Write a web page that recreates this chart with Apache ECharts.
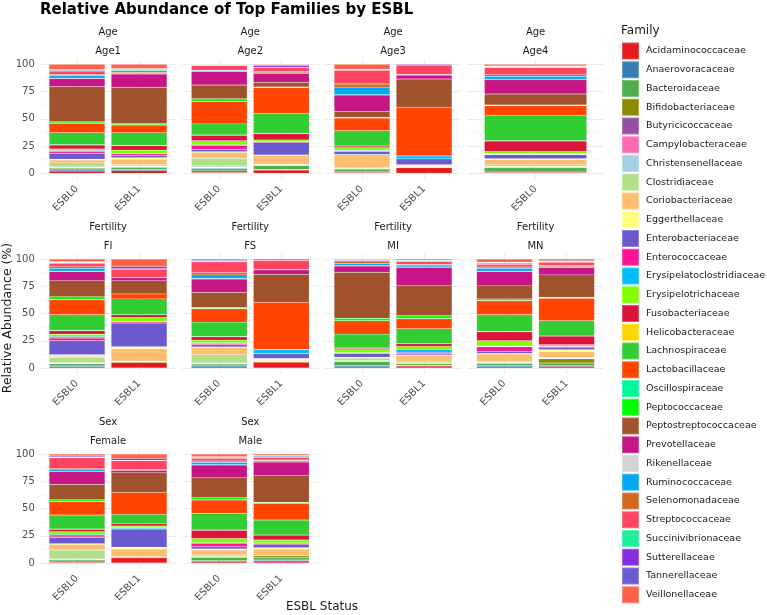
<!DOCTYPE html>
<html>
<head>
<meta charset="utf-8">
<title>Relative Abundance of Top Families by ESBL</title>
<script src="https://cdn.jsdelivr.net/npm/echarts@6/dist/echarts.min.js"></script>
<style>
html, body { margin: 0; padding: 0; background: #fff; }
#main { width: 767px; height: 615px; }
</style>
</head>
<body>
<div id="main"></div>
<script>
// families, bottom of the stack first
var families = ['Acidaminococcaceae','Anaerovoracaceae','Bacteroidaceae','Bifidobacteriaceae','Butyricicoccaceae',
    'Campylobacteraceae','Christensenellaceae','Clostridiaceae','Coriobacteriaceae','Eggerthellaceae',
    'Enterobacteriaceae','Enterococcaceae','Erysipelatoclostridiaceae','Erysipelotrichaceae','Fusobacteriaceae',
    'Helicobacteraceae','Lachnospiraceae','Lactobacillaceae','Oscillospiraceae','Peptococcaceae',
    'Peptostreptococcaceae','Prevotellaceae','Rikenellaceae','Ruminococcaceae','Selenomonadaceae',
    'Streptococcaceae','Succinivibrionaceae','Sutterellaceae','Tannerellaceae','Veillonellaceae'];
var familyColors = ['#E41A1C','#377EB8','#4DAF4A','#8B8B00','#984EA3',
    '#FF69B4','#A6CEE3','#B2DF8A','#FDBF6F','#FFFF80',
    '#6A5ACD','#FF1493','#00BFFF','#7FFF00','#DC143C',
    '#FFD700','#32CD32','#FF4500','#00FA9A','#00FF00',
    '#A0522D','#C71585','#D3D3D3','#03A9F4','#D2691E',
    '#FF4560','#1EF09A','#8A2BE2','#6A5ACD','#FF6347'];

// relative abundance (%) per family, same order as families
var Age1_ESBL0 = [2, 1, 1.5, 0.5, 0.3, 0.3, 0.5, 3.5, 2.5, 0.8, 5.5, 1.5, 1, 1.5, 3.5, 0.3, 11, 8.7, 0.3, 1.2, 32, 7.5, 0.3, 2.5, 1, 3, 0.5, 0.5, 0.5, 4.8];
var Age1_ESBL1 = [2.5, 1, 2, 0.5, 0.3, 0.2, 0.3, 1, 5, 1.5, 2, 1.5, 0.5, 3, 4, 0.3, 11.7, 7, 0.3, 0.8, 33.5, 12.2, 0.3, 0.7, 0.5, 1.5, 1.2, 0.3, 0.5, 3.9];
var Age2_ESBL0 = [1, 1.5, 2, 0.3, 0.5, 0.5, 1, 7, 5.5, 0.5, 2, 4, 0.5, 3.5, 5, 0.4, 10.1, 20.4, 0.3, 2.5, 12.5, 12.3, 0.2, 0.8, 0.3, 4.2, 0.3, 0.3, 0.4, 0.2];
var Age2_ESBL1 = [3, 0.5, 3.5, 0.3, 0.2, 0.2, 0.2, 0.5, 8, 0.5, 11.5, 0.5, 0.3, 1.5, 5.7, 0.3, 18.3, 23.6, 0.5, 0.2, 4.2, 8.2, 0.2, 0.5, 1, 3.5, 0.3, 1.5, 0.8, 0.5];
var Age3_ESBL0 = [1, 0.8, 2, 0.2, 0.2, 0.1, 0.2, 0.7, 11.7, 0.3, 2.7, 0.5, 0.8, 2.2, 1.5, 0.3, 13.8, 11.6, 0.3, 0.6, 5.2, 15.1, 0.3, 7, 2.8, 12.6, 0.5, 0.3, 0.2, 4.5];
var Age3_ESBL1 = [5.2, 0, 0.3, 0, 0, 0, 0, 0.3, 0.7, 1.5, 5.2, 0, 2.8, 0, 0, 0, 0, 44.7, 0, 0, 25.8, 3.7, 0, 0, 0.5, 8.3, 0, 1, 0, 0];
var Age4_ESBL0 = [1, 1, 3, 0.5, 0.2, 0.2, 0.3, 1.5, 4.6, 1.2, 3.5, 0.5, 0.5, 2, 9.5, 0.3, 23.6, 8.6, 0.2, 0.5, 10, 13.2, 0.3, 2.8, 1.5, 6.5, 0.5, 0.5, 0.5, 1.5];
var FI_ESBL0 = [1, 0.8, 2, 0.3, 0.2, 0.2, 0.3, 5, 1, 1.4, 12.8, 2.5, 1.5, 2, 3.2, 0.3, 14.3, 13.7, 0.3, 2.7, 14.7, 8.2, 0.3, 2.8, 1.5, 3, 0.5, 0.5, 0.5, 2.5];
var FI_ESBL1 = [5.2, 0, 0.5, 0, 0, 0, 0, 0.5, 11.5, 1.8, 21.7, 1, 0.3, 3.8, 2.5, 0, 14.6, 4.6, 0, 0, 12.2, 2.7, 0, 0, 0.5, 7.1, 0.5, 2, 0, 7];
var FS_ESBL0 = [1, 1.2, 1.5, 0.3, 0.2, 0.2, 0.2, 7.6, 6.7, 0.5, 1.9, 1.2, 0.8, 2.3, 3, 0.3, 13.2, 12.2, 0.4, 0.8, 14, 12.2, 0.5, 3.2, 2, 10, 0.4, 0.4, 0.8, 1];
var FS_ESBL1 = [5.5, 0, 0.3, 0, 0, 0, 0, 0.3, 0.8, 1.8, 4.6, 0, 3.7, 0, 0, 0, 0, 43.4, 0, 0, 25.6, 4, 0, 0, 0.5, 8.3, 0, 1.2, 0, 0];
var MI_ESBL0 = [1, 1, 4, 0.2, 0.2, 0.1, 0.2, 2.4, 0.5, 0.3, 3.5, 0.3, 0.3, 2.8, 1.2, 0.3, 12.8, 12.2, 0.2, 2.2, 42.1, 5.8, 0.2, 1.9, 2.5, 0.3, 0.2, 0.8, 0.5, 0];
var MI_ESBL1 = [1.8, 0.5, 1.8, 0.2, 0.1, 0.1, 0.1, 1, 6, 0.3, 1.2, 1.2, 2.5, 3, 2.5, 0, 13.7, 9.1, 0.3, 2.5, 27.7, 16.8, 0.2, 1.9, 0.5, 2.5, 1, 0.3, 0.2, 1];
var MN_ESBL0 = [1, 1, 2.3, 0.3, 0.2, 0.2, 0.2, 0.9, 6.7, 0.6, 1.8, 4.3, 0.5, 5, 8.2, 0.3, 15.3, 12.8, 0.3, 1.5, 11.9, 13.1, 0.3, 2.8, 1.2, 2.5, 0.8, 0.5, 0.5, 3];
var MN_ESBL1 = [1.5, 1, 2.1, 3.9, 0.3, 0.2, 0.3, 0.5, 5.4, 1.6, 2.1, 0.8, 0.3, 1.3, 8, 0, 14, 20.7, 0.3, 0.6, 20.5, 6.7, 0.2, 0.7, 1, 3, 0.7, 0.3, 0.5, 1.5];
var Female_ESBL0 = [0.8, 1, 1.2, 0.2, 0.2, 0.1, 0.2, 8.2, 5.2, 0.5, 5.6, 1.5, 1.6, 2.4, 2.2, 0.3, 12.8, 12.3, 0.3, 1.5, 14.1, 11.6, 0.3, 1.8, 0.7, 10, 0.4, 0.8, 0.7, 1.5];
var Female_ESBL1 = [4.9, 0, 0.6, 0, 0, 0, 0, 0.3, 7, 1.6, 16.8, 0.3, 0.9, 1.5, 2.2, 0, 8.5, 20.2, 0, 0, 18.1, 2.1, 0, 0, 0.5, 8.4, 0.3, 1.8, 0, 4];
var Male_ESBL0 = [1, 1, 3.3, 0.2, 0.1, 0.1, 0.1, 1.5, 4.6, 0.9, 2.2, 3, 0.7, 3.9, 7.4, 0.3, 15.3, 12.2, 0.3, 2.1, 18.1, 11.6, 0.3, 2.2, 1.2, 2.5, 0.8, 0.3, 0.3, 2.5];
var Male_ESBL1 = [1.8, 1, 2, 1.9, 0, 0, 0, 0, 6.1, 1.3, 3, 0.9, 0.3, 2.8, 4.6, 0, 13.7, 15.3, 0.3, 0.7, 24.7, 12.2, 0.2, 1, 0.7, 2.5, 0.8, 0.5, 0.5, 1.2];

var panels = [
    {group: 'Age', level: 'Age1', cats: ['ESBL0', 'ESBL1'], bars: [Age1_ESBL0, Age1_ESBL1]},
    {group: 'Age', level: 'Age2', cats: ['ESBL0', 'ESBL1'], bars: [Age2_ESBL0, Age2_ESBL1]},
    {group: 'Age', level: 'Age3', cats: ['ESBL0', 'ESBL1'], bars: [Age3_ESBL0, Age3_ESBL1]},
    {group: 'Age', level: 'Age4', cats: ['ESBL0'], bars: [Age4_ESBL0]},
    {group: 'Fertility', level: 'FI', cats: ['ESBL0', 'ESBL1'], bars: [FI_ESBL0, FI_ESBL1]},
    {group: 'Fertility', level: 'FS', cats: ['ESBL0', 'ESBL1'], bars: [FS_ESBL0, FS_ESBL1]},
    {group: 'Fertility', level: 'MI', cats: ['ESBL0', 'ESBL1'], bars: [MI_ESBL0, MI_ESBL1]},
    {group: 'Fertility', level: 'MN', cats: ['ESBL0', 'ESBL1'], bars: [MN_ESBL0, MN_ESBL1]},
    {group: 'Sex', level: 'Female', cats: ['ESBL0', 'ESBL1'], bars: [Female_ESBL0, Female_ESBL1]},
    {group: 'Sex', level: 'Male', cats: ['ESBL0', 'ESBL1'], bars: [Male_ESBL0, Male_ESBL1]}
];

var FONT = 'DejaVu Sans';
var colLeft = [39.8, 182, 324.8, 467.3];
var panelW = 136.5;
var rowTop = [64.3, 259, 454];
var plotH = 109;

var myChart = echarts.init(document.getElementById('main'));

var grids = [], xAxes = [], yAxes = [], series = [], graphics = [];
var np = panels.length;

// background grids: full panel width, carry the grid lines and y labels
panels.forEach(function (p, i) {
    var row = Math.floor(i / 4), col = i % 4;
    var n = p.cats.length;
    var centers = p.cats.map(function (c, j) { return j + 1; });
    grids.push({left: colLeft[col], top: rowTop[row] - 0.05 * plotH, width: panelW, height: plotH * 1.1});
    xAxes.push({
        gridIndex: i, type: 'value', min: 0.4, max: n + 0.6,
        axisLine: {show: false}, axisLabel: {show: false},
        axisTick: {show: false, customValues: centers},
        splitLine: {show: true, lineStyle: {color: '#EBEBEB', width: 1}}
    });
    yAxes.push({gridIndex: i, type: 'value', min: 0, max: 1, show: false});
});
panels.forEach(function (p, i) {
    var row = Math.floor(i / 4), col = i % 4;
    var gi = np + i;
    grids.push({left: colLeft[col], top: rowTop[row], width: panelW, height: plotH});
    xAxes.push({gridIndex: gi, type: 'value', min: 0, max: 1, show: false});
    yAxes.push({
        gridIndex: gi, type: 'value', min: 0, max: 100, interval: 25,
        axisLine: {show: false}, axisTick: {show: false},
        axisLabel: {show: col === 0, fontSize: 10, color: '#4D4D4D', fontFamily: FONT, margin: 5},
        splitLine: {lineStyle: {color: '#EBEBEB', width: 1}},
        minorTick: {show: false, splitNumber: 2},
        minorSplitLine: {show: true, lineStyle: {color: '#F3F3F3', width: 0.6}}
    });
});

// bar grids: one band per category, bars 90% of it
panels.forEach(function (p, i) {
    var row = Math.floor(i / 4), col = i % 4;
    var n = p.cats.length;
    var band = n === 1 ? panelW / 1.2 : panelW / 2.2;
    var gi = 2 * np + i;
    grids.push({left: colLeft[col] + 0.6 * band - band / 2, top: rowTop[row], width: band * n, height: plotH});
    xAxes.push({
        gridIndex: gi, type: 'category', data: p.cats,
        axisLine: {show: false}, axisTick: {show: false}, splitLine: {show: false},
        axisLabel: {rotate: 45, fontSize: 10, color: '#4D4D4D', fontFamily: FONT, margin: 14, padding: [10, 0, 0, 0]}
    });
    yAxes.push({
        gridIndex: gi, type: 'value', min: 0, max: 100,
        axisLine: {show: false}, axisTick: {show: false}, axisLabel: {show: false}, splitLine: {show: false}
    });
    families.forEach(function (f, k) {
        series.push({
            type: 'bar', name: f, xAxisIndex: gi, yAxisIndex: gi, stack: 'p' + i,
            barWidth: '90%',
            itemStyle: {color: familyColors[k], borderColor: 'rgba(255,255,255,0.25)', borderWidth: 0.4},
            emphasis: {disabled: true},
            data: p.bars.map(function (b) { return b[k]; })
        });
    });
    var cx = colLeft[col] + panelW / 2;
    var stripY = rowTop[row] - 32;
    graphics.push({type: 'text', x: cx, y: stripY + 0.5, style: {text: p.group, fill: '#1A1A1A', font: '10px ' + FONT, textAlign: 'center', textVerticalAlign: 'middle'}});
    graphics.push({type: 'text', x: cx, y: stripY + 19, style: {text: p.level, fill: '#1A1A1A', font: '10px ' + FONT, textAlign: 'center', textVerticalAlign: 'middle'}});
});

graphics.push({type: 'text', x: 40, y: 10, style: {text: 'Relative Abundance of Top Families by ESBL', fill: '#000', font: 'bold 15px ' + FONT, textVerticalAlign: 'middle'}});
graphics.push({type: 'text', x: 8, y: 318, rotation: Math.PI / 2, style: {text: 'Relative Abundance (%)', fill: '#1A1A1A', font: '12.5px ' + FONT, textAlign: 'center', textVerticalAlign: 'middle'}});
graphics.push({type: 'text', x: 322, y: 607, style: {text: 'ESBL Status', fill: '#1A1A1A', font: '12px ' + FONT, textAlign: 'center', textVerticalAlign: 'middle'}});
graphics.push({type: 'text', x: 621, y: 31, style: {text: 'Family', fill: '#1A1A1A', font: '12px ' + FONT, textVerticalAlign: 'middle'}});

var option = {
    animation: false,
    backgroundColor: '#fff',
    grid: grids,
    xAxis: xAxes,
    yAxis: yAxes,
    legend: {
        data: families, orient: 'vertical', left: 616, top: 36.5,
        itemWidth: 17, itemHeight: 17, itemGap: -0.25, icon: 'rect',
        selectedMode: false,
        textStyle: {fontSize: 9.5, color: '#1A1A1A', fontFamily: FONT, padding: [0, 0, 0, 2]}
    },
    series: series,
    graphic: graphics
};
myChart.setOption(option);
</script>
</body>
</html>
